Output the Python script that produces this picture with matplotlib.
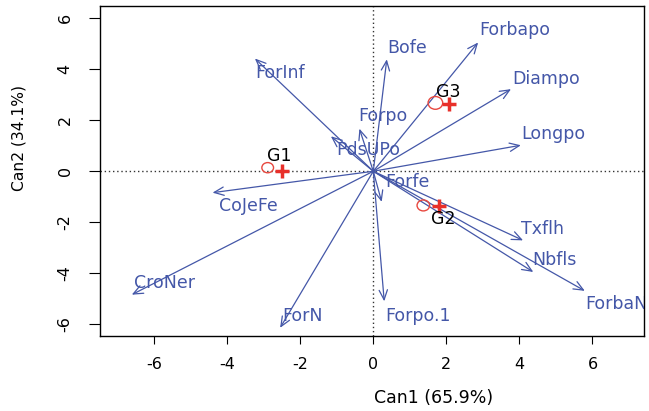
import matplotlib
matplotlib.use("Agg")
import matplotlib.pyplot as plt
from matplotlib.patches import FancyArrowPatch, Ellipse

# Structure coefficients (variable vectors) on the two canonical axes
variables = ["Forbapo", "Bofe", "Diampo", "Longpo", "Forpo", "PdsUPo", "ForInf",
             "CoJeFe", "CroNer", "ForN", "Forpo.1", "Forfe", "Txflh", "Nbfls", "ForbaN"]
can1 = [2.87, 0.37, 3.77, 4.04, -0.38, -1.16, -3.24, -4.40, -6.61, -2.55, 0.30, 0.23, 4.10, 4.38, 5.79]
can2 = [5.05, 4.39, 3.22, 1.02, 1.67, 1.37, 4.42, -0.84, -4.84, -6.14, -5.10, -1.20, -2.71, -3.95, -4.69]

# Where each variable name is written
label_x = [3.87, 0.94, 4.72, 4.93, 0.27, -0.15, -2.55, -3.42, -5.72, -1.93, 1.23, 0.94, 4.63, 4.97, 5.80]
label_y = [5.53, 4.85, 3.63, 1.48, 2.16, 0.82, 3.87, -1.37, -4.37, -5.67, -5.67, -0.42, -2.25, -3.49, -5.22]
label_ha = ["center"] * 14 + ["left"]

# Group canonical means and confidence circles
groups = ["G1", "G2", "G3"]
mean_can1 = [-2.51, 1.81, 2.08]
mean_can2 = [0.02, -1.38, 2.64]
circle_can1 = [-2.89, 1.37, 1.70]
circle_can2 = [0.14, -1.34, 2.68]
circle_radius = [0.20, 0.215, 0.25]
group_label_x = [-2.58, 1.92, 2.04]
group_label_y = [0.61, -1.88, 3.12]

xticks = [-6, -4, -2, 0, 2, 4, 6]
yticks = [-6, -4, -2, 0, 2, 4, 6]

plt.rcParams["font.family"] = ["DejaVu Sans"]
vec_col = "#4457A8"
red = "#E8302A"

W, H = 649, 411
fig = plt.figure(figsize=(W / 100, H / 100), dpi=100)
ax = fig.add_axes([100 / W, 75 / H, 544 / W, 330 / H])
ax.set_xlim(-7.48, 7.41)
ax.set_ylim(-6.46, 6.48)

# reference lines through the origin
ax.axhline(0, color="#333333", lw=1.0, ls=(0, (1, 2)), zorder=1)
ax.axvline(0, color="#333333", lw=1.0, ls=(0, (1, 2)), zorder=1)

# variable vectors
for name, x, y, lx, ly, ha in zip(variables, can1, can2, label_x, label_y, label_ha):
    arr = FancyArrowPatch((0, 0), (x, y), arrowstyle="->,head_length=7,head_width=3",
                          mutation_scale=1, shrinkA=0, shrinkB=0,
                          color=vec_col, lw=0.9, zorder=2)
    ax.add_patch(arr)
    ax.text(lx, ly, name, color=vec_col, fontsize=12.5, ha=ha, va="center",
            clip_on=True, zorder=3)

# group means
for g, mx, my, cx, cy, r, gx, gy in zip(groups, mean_can1, mean_can2, circle_can1,
                                         circle_can2, circle_radius,
                                         group_label_x, group_label_y):
    ax.add_patch(Ellipse((cx, cy), 2 * r * 0.8, 2 * r, fill=False,
                         edgecolor="#E8483F", lw=1.0, zorder=4))
    ax.plot([mx], [my], marker="+", ms=9.5, mew=2.5, color=red, zorder=5)
    ax.text(gx, gy, g, color="black", fontsize=12.5, ha="center", va="center", zorder=6)

ax.set_xticks(xticks)
ax.set_xticklabels([str(t) for t in xticks])
ax.set_yticks(yticks)
ax.set_yticklabels([str(t) for t in yticks], rotation=90, va="center")
ax.tick_params(axis="x", length=6, width=0.8, pad=9, labelsize=11.5)
ax.tick_params(axis="y", length=7.7, width=0.8, pad=12, labelsize=11.5)
for s in ax.spines.values():
    s.set_linewidth(1.0)

fig.text(434 / W, 1 - 398 / H, "Can1 (65.9%)", ha="center", va="center", fontsize=12.5)
fig.text(19 / W, 1 - 138 / H, "Can2 (34.1%)", ha="center", va="center",
         fontsize=11.2, rotation=90)

fig.savefig("out.png", dpi=100)
